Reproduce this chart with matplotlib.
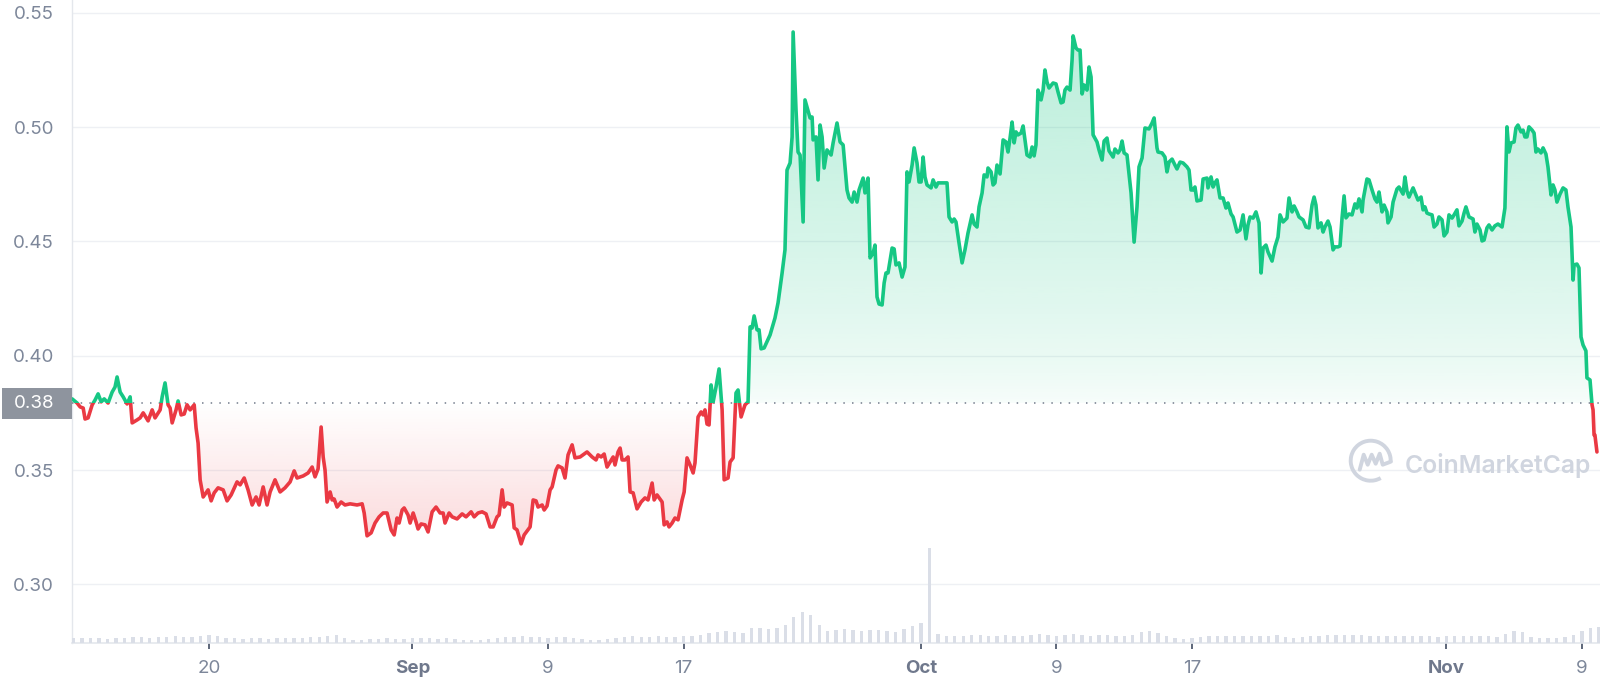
import numpy as np
import matplotlib
matplotlib.use("Agg")
import matplotlib.pyplot as plt
import matplotlib.transforms as mtransforms
from matplotlib.patches import Rectangle, Arc
from matplotlib.path import Path
from matplotlib.colors import to_rgb
import pandas as pd

plt.rcParams['font.family'] = ['Inter', 'DejaVu Sans']

# --- data -------------------------------------------------------------
START = pd.Timestamp('2022-08-12')

# days since START
day = [
    -0.08, 0.21, 0.39, 0.57, 0.68, 0.86, 1.10, 1.27, 1.45, 1.63,
    1.81, 2.04, 2.28, 2.45, 2.57, 2.75, 2.93, 3.16, 3.34, 3.46,
    3.75, 3.93, 4.11, 4.40, 4.64, 4.81, 5.11, 5.23, 5.40, 5.58,
    5.70, 5.82, 6.05, 6.17, 6.35, 6.53, 6.70, 6.88, 7.12, 7.23,
    7.35, 7.47, 7.65, 7.94, 8.12, 8.30, 8.53, 8.83, 9.06, 9.30,
    9.65, 9.83, 10.07, 10.30, 10.54, 10.77, 10.95, 11.19, 11.42, 11.60,
    11.89, 12.19, 12.48, 12.78, 13.02, 13.19, 13.55, 13.84, 14.08, 14.25,
    14.43, 14.61, 14.73, 14.84, 14.96, 15.14, 15.26, 15.38, 15.55, 15.79,
    16.02, 16.32, 16.73, 17.03, 17.15, 17.32, 17.56, 17.79, 18.03, 18.27,
    18.50, 18.74, 18.92, 19.09, 19.21, 19.39, 19.51, 19.74, 19.86, 20.04,
    20.21, 20.33, 20.51, 20.74, 20.92, 21.16, 21.39, 21.63, 21.81, 21.92,
    22.16, 22.34, 22.63, 22.93, 23.16, 23.46, 23.64, 23.87, 24.11, 24.34,
    24.58, 24.76, 24.99, 25.11, 25.29, 25.41, 25.58, 25.88, 26.00, 26.17,
    26.41, 26.59, 26.94, 27.12, 27.29, 27.41, 27.65, 27.77, 27.94, 28.12,
    28.24, 28.47, 28.59, 28.83, 29.00, 29.18, 29.42, 29.59, 29.89, 30.30,
    30.60, 30.83, 30.95, 31.13, 31.31, 31.48, 31.66, 31.84, 31.95, 32.13,
    32.25, 32.37, 32.54, 32.72, 32.84, 33.02, 33.25, 33.49, 33.72, 33.90,
    34.14, 34.26, 34.43, 34.73, 34.85, 35.02, 35.14, 35.32, 35.49, 35.67,
    35.91, 36.03, 36.20, 36.38, 36.56, 36.67, 36.85, 37.03, 37.15, 37.26,
    37.38, 37.50, 37.62, 37.74, 37.91, 38.09, 38.27, 38.39, 38.62, 38.74,
    38.92, 39.09, 39.21, 39.39, 39.62, 39.80, 39.92, 40.04, 40.16, 40.33,
    40.45, 40.57, 40.75, 41.10, 41.39, 41.57, 41.81, 41.98, 42.10, 42.28,
    42.40, 42.46, 42.63, 42.75, 42.87, 43.05, 43.16, 43.28, 43.46, 43.58,
    43.64, 43.81, 43.93, 44.05, 44.17, 44.29, 44.46, 44.70, 44.82, 45.05,
    45.23, 45.41, 45.64, 45.76, 45.94, 46.06, 46.23, 46.35, 46.59, 46.70,
    46.88, 47.00, 47.18, 47.29, 47.41, 47.53, 47.71, 47.83, 47.94, 48.06,
    48.30, 48.42, 48.53, 48.71, 48.89, 49.06, 49.18, 49.30, 49.48, 49.60,
    49.77, 49.89, 50.01, 50.13, 50.24, 50.36, 50.60, 50.72, 50.89, 51.01,
    51.54, 51.66, 51.84, 51.96, 52.07, 52.25, 52.43, 52.60, 52.78, 53.02,
    53.14, 53.31, 53.43, 53.61, 53.73, 53.90, 53.96, 54.14, 54.26, 54.37,
    54.49, 54.67, 54.85, 55.02, 55.14, 55.26, 55.38, 55.50, 55.61, 55.73,
    55.91, 56.03, 56.26, 56.44, 56.56, 56.68, 56.79, 56.91, 57.09, 57.21,
    57.32, 57.44, 57.56, 57.80, 57.97, 58.09, 58.27, 58.39, 58.50, 58.62,
    58.80, 58.92, 58.98, 59.15, 59.27, 59.39, 59.51, 59.63, 59.80, 59.92,
    60.04, 60.16, 60.39, 60.51, 60.69, 60.81, 60.98, 61.10, 61.34, 61.45,
    61.63, 61.75, 61.87, 61.99, 62.16, 62.40, 62.58, 62.75, 62.87, 63.05,
    63.22, 63.46, 63.64, 63.76, 63.93, 63.99, 64.23, 64.40, 64.52, 64.64,
    64.82, 64.99, 65.11, 65.29, 65.47, 65.70, 65.82, 65.94, 66.06, 66.17,
    66.29, 66.53, 66.65, 66.88, 66.94, 67.12, 67.24, 67.35, 67.47, 67.65,
    67.83, 68.00, 68.12, 68.30, 68.42, 68.65, 68.83, 69.01, 69.18, 69.30,
    69.42, 69.60, 69.77, 69.95, 70.07, 70.19, 70.36, 70.48, 70.72, 70.89,
    71.07, 71.19, 71.37, 71.60, 71.72, 71.90, 72.02, 72.19, 72.31, 72.55,
    72.72, 72.90, 73.08, 73.20, 73.31, 73.43, 73.61, 73.73, 73.84, 74.02,
    74.14, 74.32, 74.43, 74.61, 74.73, 74.85, 74.97, 75.08, 75.26, 75.44,
    75.61, 75.73, 75.85, 76.03, 76.09, 76.32, 76.44, 76.62, 76.79, 76.91,
    77.03, 77.21, 77.33, 77.50, 77.56, 77.74, 77.86, 78.09, 78.21, 78.45,
    78.56, 78.68, 78.80, 79.04, 79.21, 79.33, 79.51, 79.63, 79.74, 79.86,
    79.98, 80.16, 80.28, 80.45, 80.57, 80.75, 80.87, 81.04, 81.16, 81.34,
    81.46, 81.63, 81.75, 81.93, 82.05, 82.16, 82.34, 82.58, 82.69, 82.81,
    82.99, 83.11, 83.23, 83.40, 83.52, 83.70, 83.87, 84.05, 84.29, 84.46,
    84.58, 84.70, 84.82, 85.00, 85.11, 85.23, 85.41, 85.53, 85.64, 85.76,
    85.88, 86.06, 86.18, 86.29, 86.41, 86.59, 86.71, 86.88, 87.00, 87.18,
    87.30, 87.41, 87.53, 87.71, 87.89, 88.06, 88.18, 88.36, 88.48, 88.54,
    88.71, 88.83, 88.95, 89.07, 89.24, 89.30, 89.48, 89.60, 89.66, 89.72,
    89.77, 89.89,
]

price = [
    0.3811, 0.3793, 0.3776, 0.3771, 0.3723, 0.3728, 0.3785, 0.3806, 0.3833, 0.3798,
    0.3811, 0.3793, 0.3841, 0.3863, 0.3907, 0.3841, 0.3820, 0.3789, 0.3820, 0.3706,
    0.3719, 0.3728, 0.3750, 0.3715, 0.3763, 0.3728, 0.3763, 0.3820, 0.3881, 0.3785,
    0.3771, 0.3706, 0.3763, 0.3802, 0.3741, 0.3745, 0.3785, 0.3763, 0.3785, 0.3684,
    0.3618, 0.3457, 0.3382, 0.3413, 0.3365, 0.3400, 0.3422, 0.3413, 0.3365, 0.3391,
    0.3448, 0.3435, 0.3465, 0.3413, 0.3347, 0.3382, 0.3347, 0.3426, 0.3347, 0.3404,
    0.3457, 0.3404, 0.3422, 0.3448, 0.3496, 0.3465, 0.3474, 0.3487, 0.3513, 0.3470,
    0.3505, 0.3688, 0.3557, 0.3500, 0.3360, 0.3404, 0.3369, 0.3373, 0.3338, 0.3360,
    0.3347, 0.3352, 0.3347, 0.3352, 0.3312, 0.3212, 0.3225, 0.3268, 0.3295, 0.3312,
    0.3312, 0.3238, 0.3216, 0.3290, 0.3268, 0.3325, 0.3334, 0.3303, 0.3268, 0.3312,
    0.3273, 0.3242, 0.3264, 0.3260, 0.3229, 0.3317, 0.3338, 0.3312, 0.3312, 0.3268,
    0.3312, 0.3295, 0.3286, 0.3308, 0.3295, 0.3317, 0.3295, 0.3312, 0.3317, 0.3308,
    0.3251, 0.3251, 0.3295, 0.3303, 0.3413, 0.3338, 0.3356, 0.3347, 0.3247, 0.3238,
    0.3177, 0.3216, 0.3251, 0.3369, 0.3365, 0.3338, 0.3347, 0.3325, 0.3343, 0.3413,
    0.3426, 0.3500, 0.3518, 0.3509, 0.3465, 0.3566, 0.3610, 0.3553, 0.3557, 0.3579,
    0.3557, 0.3544, 0.3566, 0.3557, 0.3570, 0.3513, 0.3535, 0.3557, 0.3522, 0.3579,
    0.3596, 0.3544, 0.3544, 0.3557, 0.3404, 0.3400, 0.3330, 0.3360, 0.3378, 0.3369,
    0.3443, 0.3369, 0.3391, 0.3360, 0.3260, 0.3273, 0.3251, 0.3268, 0.3290, 0.3282,
    0.3369, 0.3404, 0.3553, 0.3522, 0.3487, 0.3531, 0.3732, 0.3754, 0.3741, 0.3763,
    0.3701, 0.3697, 0.3872, 0.3798, 0.3863, 0.3942, 0.3763, 0.3457, 0.3465, 0.3535,
    0.3553, 0.3837, 0.3850, 0.3732, 0.3785, 0.3798, 0.4126, 0.4121, 0.4174, 0.4113,
    0.4113, 0.4030, 0.4034, 0.4091, 0.4165, 0.4231, 0.4362, 0.4463, 0.4812, 0.4843,
    0.4957, 0.5416, 0.5075, 0.4891, 0.4878, 0.4585, 0.5119, 0.5088, 0.5040, 0.5044,
    0.4944, 0.4957, 0.4769, 0.5009, 0.4957, 0.4821, 0.4900, 0.4878, 0.4931, 0.5018,
    0.4935, 0.4922, 0.4725, 0.4690, 0.4672, 0.4716, 0.4672, 0.4725, 0.4777, 0.4712,
    0.4777, 0.4428, 0.4449, 0.4484, 0.4257, 0.4226, 0.4222, 0.4318, 0.4362, 0.4362,
    0.4471, 0.4467, 0.4397, 0.4406, 0.4344, 0.4388, 0.4804, 0.4760, 0.4834, 0.4909,
    0.4843, 0.4760, 0.4760, 0.4869, 0.4782, 0.4747, 0.4734, 0.4769, 0.4738, 0.4756,
    0.4756, 0.4607, 0.4585, 0.4598, 0.4585, 0.4493, 0.4406, 0.4463, 0.4537, 0.4616,
    0.4576, 0.4563, 0.4651, 0.4712, 0.4791, 0.4782, 0.4821, 0.4804, 0.4747, 0.4756,
    0.4834, 0.4795, 0.4944, 0.4935, 0.4891, 0.4952, 0.5022, 0.4931, 0.4979, 0.4966,
    0.4974, 0.5005, 0.4878, 0.4869, 0.4913, 0.4874, 0.4922, 0.5162, 0.5119, 0.5162,
    0.5250, 0.5197, 0.5171, 0.5193, 0.5189, 0.5154, 0.5106, 0.5110, 0.5162, 0.5175,
    0.5162, 0.5294, 0.5399, 0.5346, 0.5337, 0.5337, 0.5145, 0.5184, 0.5162, 0.5263,
    0.5219, 0.4966, 0.4935, 0.4900, 0.4856, 0.4939, 0.4952, 0.4896, 0.4869, 0.4904,
    0.4887, 0.4900, 0.4939, 0.4887, 0.4878, 0.4712, 0.4497, 0.4651, 0.4826, 0.4865,
    0.4996, 0.4992, 0.5018, 0.5040, 0.4909, 0.4891, 0.4887, 0.4869, 0.4804, 0.4847,
    0.4860, 0.4834, 0.4817, 0.4847, 0.4843, 0.4826, 0.4812, 0.4725, 0.4725, 0.4738,
    0.4677, 0.4681, 0.4773, 0.4777, 0.4734, 0.4782, 0.4738, 0.4756, 0.4769, 0.4690,
    0.4690, 0.4646, 0.4668, 0.4620, 0.4607, 0.4541, 0.4550, 0.4616, 0.4511, 0.4572,
    0.4607, 0.4602, 0.4629, 0.4581, 0.4362, 0.4471, 0.4484, 0.4454, 0.4414, 0.4476,
    0.4519, 0.4616, 0.4585, 0.4602, 0.4690, 0.4629, 0.4655, 0.4629, 0.4607, 0.4594,
    0.4563, 0.4559, 0.4659, 0.4694, 0.4659, 0.4559, 0.4581, 0.4541, 0.4563, 0.4589,
    0.4563, 0.4463, 0.4476, 0.4476, 0.4480, 0.4603, 0.4699, 0.4603, 0.4620, 0.4616,
    0.4664, 0.4646, 0.4686, 0.4629, 0.4681, 0.4773, 0.4769, 0.4725, 0.4686, 0.4672,
    0.4716, 0.4629, 0.4659, 0.4629, 0.4581, 0.4607, 0.4672, 0.4729, 0.4738, 0.4707,
    0.4782, 0.4720, 0.4694, 0.4734, 0.4703, 0.4681, 0.4694, 0.4638, 0.4651, 0.4624,
    0.4620, 0.4616, 0.4563, 0.4576, 0.4607, 0.4594, 0.4524, 0.4541, 0.4616, 0.4602,
    0.4616, 0.4638, 0.4568, 0.4589, 0.4624, 0.4651, 0.4607, 0.4598, 0.4541, 0.4576,
    0.4550, 0.4502, 0.4506, 0.4559, 0.4572, 0.4550, 0.4568, 0.4576, 0.4563, 0.4646,
    0.5001, 0.4891, 0.4931, 0.4935, 0.4996, 0.5009, 0.4979, 0.4987, 0.4957, 0.4957,
    0.5001, 0.4987, 0.4974, 0.4891, 0.4904, 0.4887, 0.4909, 0.4882, 0.4826, 0.4703,
    0.4747, 0.4725, 0.4672, 0.4707, 0.4734, 0.4725, 0.4651, 0.4563, 0.4331, 0.4397,
    0.4401, 0.4384, 0.4082, 0.4047, 0.4021, 0.3903, 0.3894, 0.3785, 0.3763, 0.3653,
    0.3653, 0.3579,
]

# volume, one value per half day from START (relative units)
volume = [
    5, 5, 5, 5, 4, 5, 5, 6, 6, 5, 6, 6, 7, 6, 6, 7,
    8, 7, 5, 5, 4, 5, 5, 4, 5, 5, 5, 5, 6, 6, 7, 8,
    5, 3, 3, 4, 4, 5, 4, 4, 5, 5, 5, 4, 5, 4, 3, 3,
    3, 4, 5, 6, 6, 7, 6, 6, 5, 6, 6, 5, 4, 3, 3, 4,
    5, 6, 7, 6, 6, 7, 6, 6, 7, 7, 8, 10, 11, 12, 11, 10,
    15, 15, 14, 15, 18, 26, 31, 28, 18, 12, 13, 14, 13, 12, 13, 13,
    12, 11, 14, 17, 20, 95, 9, 7, 7, 7, 8, 8, 7, 7, 8, 7,
    7, 8, 9, 8, 7, 8, 9, 8, 7, 8, 8, 7, 7, 8, 11, 12,
    10, 7, 5, 4, 5, 6, 7, 7, 7, 7, 7, 7, 7, 7, 8, 6,
    5, 6, 7, 7, 8, 8, 8, 8, 8, 7, 7, 7, 7, 7, 7, 7,
    7, 6, 7, 7, 7, 7, 7, 7, 6, 9, 12, 11, 6, 5, 5, 5,
    6, 8, 12, 15, 16,
]
vol_day = [0.5 * i for i in range(len(volume))]

base_price = 0.3792
y_ticks = [0.30, 0.35, 0.40, 0.45, 0.50, 0.55]
tick_dates = ['2022-08-20', '2022-09-01', '2022-09-09', '2022-09-17',
              '2022-10-01', '2022-10-09', '2022-10-17', '2022-11-01', '2022-11-09']
tick_labels = ['20', 'Sep', '9', '17', 'Oct', '9', '17', 'Nov', '9']
month_labels = {'Sep', 'Oct', 'Nov'}

# --- style --------------------------------------------------------------
GREEN = '#16c784'
RED = '#ea3943'
GRID = '#eef0f4'
LABEL = '#7d879a'

day = np.array(day)
price = np.array(price)
x0, x1 = -0.09, 90.07
y0, y1 = 0.2742, 0.5556

fig = plt.figure(figsize=(16, 6.88), dpi=100)
ax = fig.add_axes([0.045, 0.065, 0.955, 0.935])

# volume bars on a hidden twin axis
vax = ax.twinx()
vax.bar(vol_day, volume, width=0.2, color='#dadee7', linewidth=0)
vax.set_ylim(0, max(volume) / 0.148)
vax.axis('off')

# gradient fills, clipped to the area between price and the reference price
def gradient(ax, where, color, lo, hi, alpha_fn):
    fb = ax.fill_between(day, price, base_price, where=where, interpolate=True)
    clip = Path.make_compound_path(*fb.get_paths())
    fb.remove()
    g = np.linspace(0, 1, 300)[:, None]
    img = np.zeros((300, 1, 4))
    img[..., :3] = to_rgb(color)
    img[..., 3] = alpha_fn(g)
    im = ax.imshow(img, extent=(x0, x1, lo, hi), origin='lower', aspect='auto',
                   interpolation='bilinear', zorder=1)
    im.set_clip_path(clip, transform=ax.transData)

gradient(ax, price >= base_price, GREEN, base_price, 0.55,
         lambda g: 0.03 + 0.27 * g ** 0.7)
gradient(ax, price <= base_price, RED, 0.30, base_price,
         lambda g: 0.25 * (1 - g))

# price line: green above the reference price, red below
LW = 2.6
lg, = ax.plot(day, price, color=GREEN, lw=LW, zorder=4,
              solid_joinstyle='round', solid_capstyle='round')
lg.set_clip_path(Rectangle((x0, base_price), x1 - x0, 1, transform=ax.transData))
lr, = ax.plot(day, price, color=RED, lw=LW, zorder=4,
              solid_joinstyle='round', solid_capstyle='round')
lr.set_clip_path(Rectangle((x0, 0), x1 - x0, base_price, transform=ax.transData))

ax.axhline(base_price, color='#7d8594', lw=1.2, ls=(0, (0.9, 4.3)), zorder=3)

ax.set_xlim(x0, x1)
ax.set_ylim(y0, y1)

# axes styling
for s in ['top', 'right']:
    ax.spines[s].set_visible(False)
ax.spines['left'].set_color('#e4e7ec')
ax.spines['bottom'].set_color('#e4e7ec')
ax.spines['left'].set_linewidth(1.0)
ax.spines['bottom'].set_linewidth(1.2)

ax.set_yticks(y_ticks)
ax.set_yticklabels([f'{v:.2f}' for v in y_ticks])
ax.grid(axis='y', color=GRID, lw=1.0)
ax.set_axisbelow(True)
ax.tick_params(axis='y', length=0, pad=13, labelsize=13.5, labelcolor=LABEL)

tick_pos = [(pd.Timestamp(d) - START).days for d in tick_dates]
ax.set_xticks(tick_pos)
ax.set_xticklabels(tick_labels)
ax.tick_params(axis='x', direction='out', length=4, width=1.4, color='#5d6679',
               pad=8, labelsize=13.5, labelcolor=LABEL)
for lbl in ax.get_xticklabels():
    if lbl.get_text() in month_labels:
        lbl.set_fontweight('bold')
        lbl.set_color('#6f788c')

# reference price tag on the left
trans = mtransforms.blended_transform_factory(ax.transAxes, ax.transData)
ax.add_patch(Rectangle((-0.0458, base_price - 0.0068), 0.0456, 0.0136,
                       transform=trans, facecolor='#8e949e', edgecolor='none',
                       clip_on=False, zorder=5))
ax.text(-0.0118, base_price, f'{base_price:.2f}', transform=trans, ha='right',
        va='center', color='white', fontsize=13.5, zorder=6)

# watermark
WM = '#d0d5df'
fig.text(1405 / 1600, 1 - 473 / 688, 'CoinMarketCap', ha='left', va='baseline',
         fontsize=17.8, fontweight='semibold', color=WM)
lax = fig.add_axes([(1370.7 - 24) / 1600, (688 - 460.7 - 24) / 688, 48 / 1600, 48 / 688])
lax.set_xlim(-1.2, 1.2)
lax.set_ylim(-1.2, 1.2)
lax.axis('off')
lax.add_patch(Arc((0, 0), 2, 2, theta1=-5, theta2=300, color=WM, lw=2.8))
lax.plot([-0.55, -0.35, -0.15, 0.05, 0.25, 0.45, 0.6, 1.0],
         [-0.45, 0.3, -0.2, 0.3, -0.15, 0.35, -0.2, -0.05],
         color=WM, lw=2.8, solid_joinstyle='round', solid_capstyle='round')

fig.savefig('out.png', dpi=100)
